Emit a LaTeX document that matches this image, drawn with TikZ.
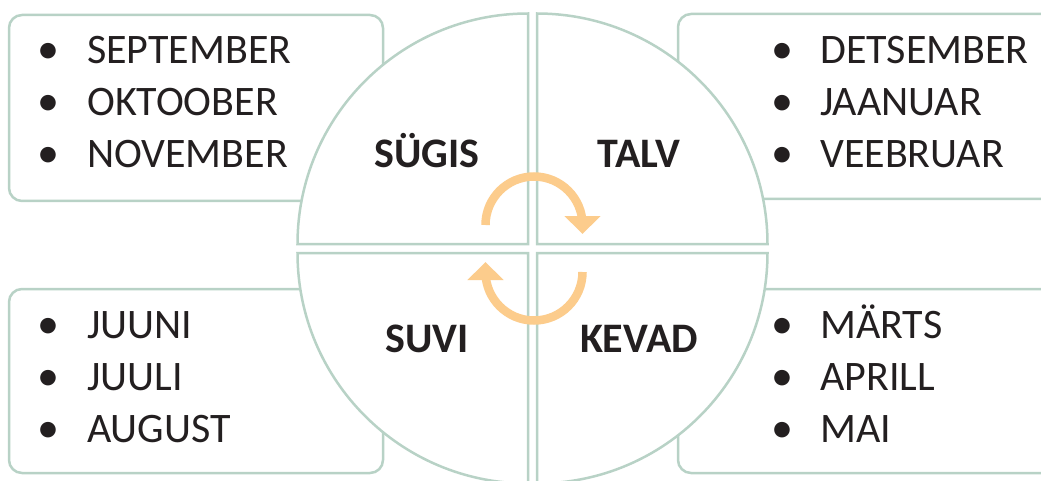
\documentclass[tikz,border=0pt]{standalone}
\usepackage{fontspec}
\setmainfont{Carlito}
\usetikzlibrary{arrows.meta}

\definecolor{sage}{RGB}{184,210,198}
\definecolor{peach}{RGB}{252,204,140}
\definecolor{ink}{RGB}{35,31,32}

\tikzset{
	listbox/.style={draw=sage, line width=2.5pt, fill=white, rounded corners=13pt},
	quarter/.style={draw=sage, line width=2.5pt, fill=white},
	month/.style={anchor=base west, inner sep=0pt, text=ink, font=\fontsize{42}{50}\selectfont},
	bul/.style={anchor=base, inner sep=0pt, text=ink, font=\fontsize{44}{50}\selectfont},
	season/.style={anchor=base, inner sep=0pt, text=ink, font=\fontsize{42}{50}\selectfont\bfseries},
	turn/.style={draw=peach, line width=8.5pt, -{Triangle[width=35pt,length=18pt]}}
}

\begin{document}
\begin{tikzpicture}[x=1pt, y=1pt]
	\useasboundingbox (0,0) rectangle (1041,480);
	% boxes behind the circle
	\draw[listbox] (9,279) rectangle (383,465);
	\draw[listbox] (678,281) rectangle (1070,466);
	\draw[listbox] (9,7) rectangle (383,191);
	\draw[listbox] (678,7) rectangle (1070,191);
	% quarters
	\draw[quarter] (528,236) -- ++(-230.5,0) arc (180:90:230.5) -- cycle;
	\draw[quarter] (537,236) -- ++(0,230.5) arc (90:0:230.5) -- cycle;
	\draw[quarter] (528,227) -- ++(-230.5,0) arc (180:270:230.5) -- cycle;
	\draw[quarter] (537,227) -- ++(230.5,0) arc (0:-90:230.5) -- cycle;
	% months
	\foreach \m [count=\i] in {SEPTEMBER,OKTOOBER,NOVEMBER}
		{\node[bul] (sb\i) at (48,468-52*\i) {•};
		 \node[month] (sm\i) at (87,468-52*\i) {\m};}
	\foreach \m [count=\i] in {DETSEMBER,JAANUAR,VEEBRUAR}
		{\node[bul] (tb\i) at (782,468-52*\i) {•};
		 \node[month] (tm\i) at (820,468-52*\i) {\m};}
	\foreach \m [count=\i] in {JUUNI,JUULI,AUGUST}
		{\node[bul] (ub\i) at (48,194-52*\i) {•};
		 \node[month] (um\i) at (87,194-52*\i) {\m};}
	\foreach \m [count=\i] in {MÄRTS,APRILL,MAI}
		{\node[bul] (kb\i) at (782,194-52*\i) {•};
		 \node[month] (km\i) at (820,194-52*\i) {\m};}
	% seasons
	\node[season] (sygis) at (427,312) {SÜGIS};
	\node[season] (talv) at (639,312) {TALV};
	\node[season] (suvi) at (427,128) {SUVI};
	\node[season] (kevad) at (639,128) {KEVAD};
	% cycle
	\coordinate (top) at (485.5,255);
	\coordinate (bot) at (582.5,208);
	\draw[turn] (top) arc (180:0:48.5) -- ++(0,-9);
	\draw[turn] (bot) arc (0:-180:48.5) -- ++(0,10);
\end{tikzpicture}
\end{document}
